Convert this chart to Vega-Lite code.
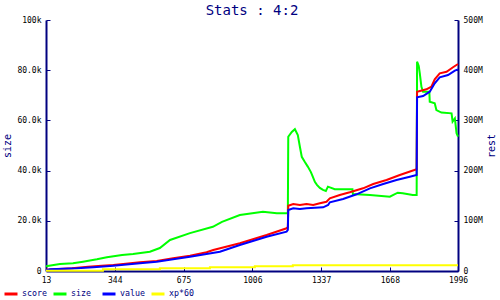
{
  "$schema": "https://vega.github.io/schema/vega-lite/v6.json",
  "width": 412,
  "height": 251,
  "autosize": {"type": "none"},
  "padding": {"left": 46, "top": 20, "right": 42, "bottom": 29},
  "background": "#ffffff",
  "title": {"text": "Stats : 4:2", "font": "DejaVu Sans Mono", "fontSize": 14, "fontWeight": "normal", "color": "#000080", "anchor": "middle", "offset": -2},
  "datasets": {
    "size": [
      {"series": "size", "x": 13, "v": 1870}, {"series": "size", "x": 80, "v": 2790}, {"series": "size", "x": 143, "v": 3070},
      {"series": "size", "x": 191, "v": 3710}, {"series": "size", "x": 258, "v": 4660}, {"series": "size", "x": 306, "v": 5460},
      {"series": "size", "x": 379, "v": 6370}, {"series": "size", "x": 432, "v": 6770}, {"series": "size", "x": 513, "v": 7690},
      {"series": "size", "x": 561, "v": 9160}, {"series": "size", "x": 610, "v": 12350}, {"series": "size", "x": 706, "v": 15100},
      {"series": "size", "x": 816, "v": 17600}, {"series": "size", "x": 860, "v": 19600}, {"series": "size", "x": 946, "v": 22300},
      {"series": "size", "x": 1057, "v": 23600}, {"series": "size", "x": 1124, "v": 23000}, {"series": "size", "x": 1177, "v": 23000},
      {"series": "size", "x": 1179, "v": 53500},
      {"series": "size", "x": 1196, "v": 55400}, {"series": "size", "x": 1211, "v": 56500}, {"series": "size", "x": 1225, "v": 54200},
      {"series": "size", "x": 1235, "v": 49500}, {"series": "size", "x": 1244, "v": 45500}, {"series": "size", "x": 1259, "v": 43400},
      {"series": "size", "x": 1273, "v": 41600}, {"series": "size", "x": 1288, "v": 39400}, {"series": "size", "x": 1297, "v": 37600},
      {"series": "size", "x": 1307, "v": 35500}, {"series": "size", "x": 1317, "v": 34300}, {"series": "size", "x": 1331, "v": 33100},
      {"series": "size", "x": 1346, "v": 32300}, {"series": "size", "x": 1360, "v": 31900}, {"series": "size", "x": 1370, "v": 33600},
      {"series": "size", "x": 1403, "v": 32600}, {"series": "size", "x": 1488, "v": 32600}, {"series": "size", "x": 1490, "v": 30700}, {"series": "size", "x": 1572, "v": 30300},
      {"series": "size", "x": 1668, "v": 29600}, {"series": "size", "x": 1706, "v": 31200}, {"series": "size", "x": 1730, "v": 31000},
      {"series": "size", "x": 1778, "v": 30300}, {"series": "size", "x": 1797, "v": 30300}, {"series": "size", "x": 1799, "v": 83400},
      {"series": "size", "x": 1807, "v": 81700}, {"series": "size", "x": 1812, "v": 78800}, {"series": "size", "x": 1820, "v": 73400},
      {"series": "size", "x": 1828, "v": 71400}, {"series": "size", "x": 1858, "v": 71400}, {"series": "size", "x": 1860, "v": 67400}, {"series": "size", "x": 1884, "v": 66800},
      {"series": "size", "x": 1892, "v": 64100}, {"series": "size", "x": 1916, "v": 63100}, {"series": "size", "x": 1965, "v": 62800},
      {"series": "size", "x": 1970, "v": 59500}, {"series": "size", "x": 1981, "v": 60800}, {"series": "size", "x": 1989, "v": 54900},
      {"series": "size", "x": 1996, "v": 53500}
    ],
    "rest": [
      {"series": "score", "x": 13, "v": 2500000}, {"series": "score", "x": 138, "v": 5400000}, {"series": "score", "x": 216, "v": 8600000},
      {"series": "score", "x": 281, "v": 10600000}, {"series": "score", "x": 337, "v": 12000000}, {"series": "score", "x": 385, "v": 13900000},
      {"series": "score", "x": 465, "v": 17300000}, {"series": "score", "x": 546, "v": 19900000}, {"series": "score", "x": 625, "v": 25300000},
      {"series": "score", "x": 706, "v": 30500000}, {"series": "score", "x": 786, "v": 37300000}, {"series": "score", "x": 818, "v": 41800000},
      {"series": "score", "x": 946, "v": 55200000}, {"series": "score", "x": 1075, "v": 71700000}, {"series": "score", "x": 1171, "v": 85100000},
      {"series": "score", "x": 1177, "v": 87600000}, {"series": "score", "x": 1179, "v": 130000000}, {"series": "score", "x": 1203, "v": 133500000},
      {"series": "score", "x": 1235, "v": 131500000}, {"series": "score", "x": 1267, "v": 133500000}, {"series": "score", "x": 1299, "v": 131500000},
      {"series": "score", "x": 1331, "v": 134900000}, {"series": "score", "x": 1363, "v": 138000000}, {"series": "score", "x": 1379, "v": 144800000},
      {"series": "score", "x": 1427, "v": 151400000}, {"series": "score", "x": 1475, "v": 156800000}, {"series": "score", "x": 1539, "v": 164700000},
      {"series": "score", "x": 1588, "v": 173300000}, {"series": "score", "x": 1652, "v": 181300000}, {"series": "score", "x": 1716, "v": 191200000},
      {"series": "score", "x": 1772, "v": 199200000}, {"series": "score", "x": 1797, "v": 202600000}, {"series": "score", "x": 1799, "v": 357200000},
      {"series": "score", "x": 1844, "v": 362000000}, {"series": "score", "x": 1868, "v": 367100000}, {"series": "score", "x": 1884, "v": 381900000},
      {"series": "score", "x": 1908, "v": 393800000}, {"series": "score", "x": 1941, "v": 397000000}, {"series": "score", "x": 1972, "v": 405800000},
      {"series": "score", "x": 1996, "v": 412300000},
      {"series": "value", "x": 13, "v": 1000000}, {"series": "value", "x": 32, "v": 3400000}, {"series": "value", "x": 161, "v": 5400000},
      {"series": "value", "x": 241, "v": 7400000}, {"series": "value", "x": 337, "v": 10600000}, {"series": "value", "x": 465, "v": 15300000},
      {"series": "value", "x": 546, "v": 18500000}, {"series": "value", "x": 625, "v": 23300000}, {"series": "value", "x": 706, "v": 28500000},
      {"series": "value", "x": 850, "v": 38400000}, {"series": "value", "x": 946, "v": 51800000}, {"series": "value", "x": 1075, "v": 68300000},
      {"series": "value", "x": 1171, "v": 78300000}, {"series": "value", "x": 1177, "v": 81700000}, {"series": "value", "x": 1179, "v": 121500000},
      {"series": "value", "x": 1203, "v": 124900000}, {"series": "value", "x": 1235, "v": 123500000}, {"series": "value", "x": 1267, "v": 124900000},
      {"series": "value", "x": 1347, "v": 126900000}, {"series": "value", "x": 1371, "v": 131500000}, {"series": "value", "x": 1379, "v": 136900000},
      {"series": "value", "x": 1443, "v": 143400000}, {"series": "value", "x": 1508, "v": 152800000}, {"series": "value", "x": 1572, "v": 164700000},
      {"series": "value", "x": 1636, "v": 173300000}, {"series": "value", "x": 1700, "v": 181300000}, {"series": "value", "x": 1764, "v": 187800000},
      {"series": "value", "x": 1797, "v": 191200000}, {"series": "value", "x": 1799, "v": 346000000}, {"series": "value", "x": 1828, "v": 348600000},
      {"series": "value", "x": 1860, "v": 357200000}, {"series": "value", "x": 1884, "v": 373900000}, {"series": "value", "x": 1908, "v": 385900000},
      {"series": "value", "x": 1948, "v": 390400000}, {"series": "value", "x": 1981, "v": 399000000}, {"series": "value", "x": 1996, "v": 401800000}
    ],
    "xp": [
      {"series": "xp*60", "x": 13, "v": 600000}, {"series": "xp*60", "x": 287, "v": 3400000}, {"series": "xp*60", "x": 561, "v": 5400000},
      {"series": "xp*60", "x": 802, "v": 7400000}, {"series": "xp*60", "x": 1018, "v": 9400000}, {"series": "xp*60", "x": 1201, "v": 11400000},
      {"series": "xp*60", "x": 1996, "v": 11400000}
    ]
  },
  "layer": [
    {
      "data": {"name": "size"},
      "mark": {"type": "line", "strokeWidth": 2},
      "encoding": {
        "x": {"field": "x", "type": "quantitative", "scale": {"domain": [13, 1996], "nice": false, "zero": false},
              "axis": {"values": [13, 344, 675, 1006, 1337, 1668, 1996], "title": null, "format": "d"}},
        "y": {"field": "v", "type": "quantitative", "scale": {"domain": [0, 100000], "nice": false},
              "axis": {"orient": "left", "title": "size", "values": [0, 20000, 40000, 60000, 80000, 100000],
                       "labelExpr": "datum.value == 0 ? '0' : (datum.value >= 100000 ? '100k' : format(datum.value / 1000, '.1f') + 'k')"}},
        "color": {"field": "series", "type": "nominal",
                  "scale": {"domain": ["score", "size", "value", "xp*60"], "range": ["#ff0000", "#00ff00", "#0000ff", "#ffff00"]},
                  "legend": {"orient": "none", "direction": "horizontal", "columns": 4, "legendX": -43, "legendY": 266, "title": null,
                             "symbolType": "stroke", "symbolSize": 169, "symbolStrokeWidth": 3, "labelOffset": 3, "columnPadding": 0,
                             "gridAlign": "all", "padding": 0, "labelFont": "DejaVu Sans Mono", "labelFontSize": 8.3, "labelColor": "#000080"}}
      }
    },
    {
      "data": {"name": "rest"},
      "mark": {"type": "line", "strokeWidth": 2},
      "encoding": {
        "x": {"field": "x", "type": "quantitative", "scale": {"domain": [13, 1996], "nice": false, "zero": false}},
        "y": {"field": "v", "type": "quantitative", "scale": {"domain": [0, 500000000], "nice": false},
              "axis": {"orient": "right", "title": "rest", "titleAngle": -90, "titlePadding": 14, "values": [0, 100000000, 200000000, 300000000, 400000000, 500000000],
                       "labelExpr": "datum.value == 0 ? '0' : format(datum.value / 1000000, 'd') + 'M'"}},
        "color": {"field": "series", "type": "nominal"}
      }
    },
    {
      "data": {"name": "xp"},
      "mark": {"type": "line", "interpolate": "step-after", "strokeWidth": 2},
      "encoding": {
        "x": {"field": "x", "type": "quantitative", "scale": {"domain": [13, 1996], "nice": false, "zero": false}},
        "y": {"field": "v", "type": "quantitative", "scale": {"domain": [0, 500000000], "nice": false}, "axis": null},
        "color": {"field": "series", "type": "nominal"}
      }
    }
  ],
  "resolve": {"scale": {"y": "independent"}},
  "config": {
    "view": {"stroke": null},
    "axis": {"domainColor": "#000080", "tickColor": "#000080", "domainWidth": 2, "tickWidth": 1, "tickSize": -4, "labelPadding": 9,
             "labelFont": "DejaVu Sans Mono", "labelFontSize": 8, "labelColor": "#000000", "titleFont": "DejaVu Sans Mono", "titleFontSize": 10,
             "titleColor": "#000080", "titleFontWeight": "normal", "grid": false, "labelFlush": false, "labelOverlap": false}
  }
}
